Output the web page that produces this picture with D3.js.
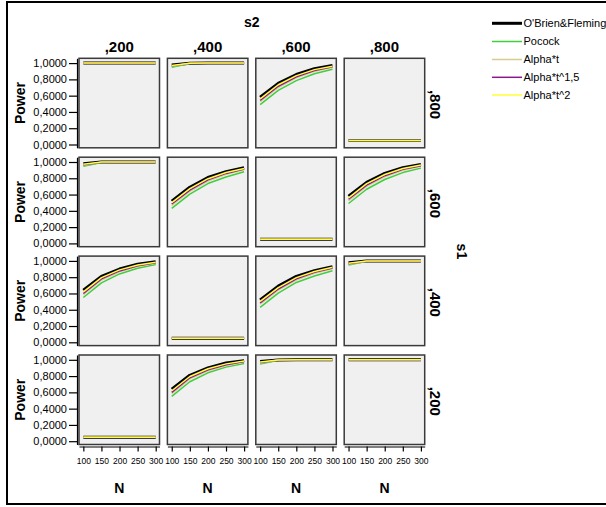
<!DOCTYPE html>
<html>
<head>
<meta charset="utf-8">
<script src="https://cdn.jsdelivr.net/npm/d3@7"></script>
<style>
  html, body { margin: 0; padding: 0; background: #fff; }
  svg { display: block; font-family: "Liberation Sans", Arial, sans-serif; }
</style>
</head>
<body>
<svg id="chart" width="606" height="507"></svg>
<script>
// ---------------- DATA ----------------
const nValues = [100, 150, 200, 250, 300];
const s2Labels = [",200", ",400", ",600", ",800"];          // columns
const s1Labels = [",800", ",600", ",400", ",200"];          // rows, top to bottom
const yTickValues = [0, 0.2, 0.4, 0.6, 0.8, 1.0];

const seriesNames  = ["O'Brien&Fleming", "Pocock", "Alpha*t", "Alpha*t^1,5", "Alpha*t^2"];
const seriesColors = ["#000000", "#3fcf3f", "#d6cb93", "#8a1a8a", "#ffff3a"];

// Power curves (series order as seriesNames)
// difference 0 (null): s1 = s2
const powerFlat = [
  [0.05, 0.05, 0.05, 0.05, 0.05],
  [0.05, 0.05, 0.05, 0.05, 0.05],
  [0.05, 0.05, 0.05, 0.05, 0.05],
  [0.05, 0.05, 0.05, 0.05, 0.05],
  [0.05, 0.05, 0.05, 0.05, 0.05]
];
// difference 0.6
const powerOne = [
  [1.0, 1.0, 1.0, 1.0, 1.0],
  [1.0, 1.0, 1.0, 1.0, 1.0],
  [1.0, 1.0, 1.0, 1.0, 1.0],
  [1.0, 1.0, 1.0, 1.0, 1.0],
  [1.0, 1.0, 1.0, 1.0, 1.0]
];
// difference 0.4
const powerNear = [
  [0.978, 0.999, 1.0, 1.0, 1.0],
  [0.948, 0.995, 1.0, 1.0, 1.0],
  [0.960, 0.997, 1.0, 1.0, 1.0],
  [0.966, 0.998, 1.0, 1.0, 1.0],
  [0.972, 0.999, 1.0, 1.0, 1.0]
];
// ,200 vs ,400
const powerA = [
  [0.640, 0.810, 0.900, 0.960, 0.990],
  [0.550, 0.730, 0.840, 0.910, 0.955],
  [0.585, 0.765, 0.865, 0.930, 0.972],
  [0.600, 0.780, 0.877, 0.940, 0.978],
  [0.620, 0.795, 0.890, 0.950, 0.984]
];
// ,600 vs ,800
const powerB = [
  [0.580, 0.750, 0.860, 0.930, 0.970],
  [0.490, 0.665, 0.785, 0.870, 0.925],
  [0.525, 0.700, 0.818, 0.898, 0.948],
  [0.542, 0.716, 0.832, 0.910, 0.955],
  [0.560, 0.734, 0.846, 0.920, 0.962]
];
// ,400 vs ,600
const powerC = [
  [0.520, 0.690, 0.810, 0.880, 0.930],
  [0.430, 0.605, 0.735, 0.815, 0.880],
  [0.468, 0.640, 0.765, 0.848, 0.904],
  [0.484, 0.655, 0.780, 0.860, 0.913],
  [0.502, 0.672, 0.795, 0.870, 0.921]
];

const curveSets = { flat: powerFlat, one: powerOne, near: powerNear, A: powerA, B: powerB, C: powerC };
// which curve set belongs to each panel [row][col]
const panelKeys = [
  ["one",  "near", "B",    "flat"],
  ["near", "C",    "flat", "B"],
  ["A",    "flat", "C",    "near"],
  ["flat", "A",    "near", "one"]
];

// ---------------- LAYOUT ----------------
const svg = d3.select("#chart");
const font = "'Liberation Sans', Arial, sans-serif";

const gridLeft = 79, gridTop = 58.3;
const panelW = 80.5, panelH = 89.5;
const colPitch = 88.4, rowPitch = 98.9;

const x = d3.scaleLinear().domain([88, 310.5]).range([0, panelW]);
const y = d3.scaleLinear().domain([-0.0405, 1.059]).range([panelH, 0]);

// outer frame
svg.append("rect")
  .attr("x", 7).attr("y", 2).attr("width", 640).attr("height", 502)
  .attr("fill", "none").attr("stroke", "#000").attr("stroke-width", 2);

const line = d3.line().x((d, i) => x(nValues[i])).y(d => y(d));

// draw panels
for (let r = 0; r < 4; r++) {
  for (let c = 0; c < 4; c++) {
    const px = gridLeft + c * colPitch, py = gridTop + r * rowPitch;
    const g = svg.append("g").attr("transform", `translate(${px},${py})`);
    g.append("rect")
      .attr("width", panelW).attr("height", panelH)
      .attr("fill", "#f0f0f0").attr("stroke", "#3a3a3a").attr("stroke-width", 1.5);
    const set = curveSets[panelKeys[r][c]];
    set.forEach((vals, si) => {
      g.append("path")
        .attr("d", line(vals))
        .attr("fill", "none")
        .attr("stroke", seriesColors[si])
        .attr("stroke-width", si === 0 ? 3 : 1.5)
        .attr("stroke-linejoin", "round");
    });

    // y axis on left column
    if (c === 0) {
      const ax = svg.append("g")
        .attr("transform", `translate(${px - 2},${py})`)
        .call(d3.axisLeft(y).tickValues(yTickValues).tickSize(8).tickSizeOuter(0).tickPadding(2)
          .tickFormat(d => d3.format(".4f")(d).replace(".", ",")));
      ax.selectAll("text").attr("font-size", 11).attr("font-family", font).attr("fill", "#000");
      ax.selectAll("line, path").attr("stroke", "#000").attr("stroke-width", 1.2);
      svg.append("text")
        .attr("transform", `translate(24.5,${py + panelH / 2}) rotate(-90)`)
        .attr("text-anchor", "middle")
        .attr("font-size", 14).attr("font-weight", "bold").attr("font-family", font)
        .text("Power");
    }
    // x axis on bottom row
    if (r === 3) {
      const ax = svg.append("g")
        .attr("transform", `translate(${px},${py + panelH + 2})`)
        .call(d3.axisBottom(x).tickValues(nValues).tickSize(5).tickSizeOuter(0).tickPadding(6));
      ax.selectAll("text").attr("font-size", 8.5).attr("font-family", font).attr("fill", "#000");
      ax.selectAll("line, path").attr("stroke", "#000").attr("stroke-width", 1.2);
      svg.append("text")
        .attr("x", px + panelW / 2).attr("y", 493)
        .attr("text-anchor", "middle")
        .attr("font-size", 14).attr("font-weight", "bold").attr("font-family", font)
        .text("N");
    }
    // column headers
    if (r === 0) {
      svg.append("text")
        .attr("x", px + panelW / 2).attr("y", 52)
        .attr("text-anchor", "middle")
        .attr("font-size", 15).attr("font-weight", "bold").attr("font-family", font)
        .text(s2Labels[c]);
    }
    // row labels
    if (c === 3) {
      svg.append("text")
        .attr("transform", `translate(430,${py + panelH / 2 + 1.5}) rotate(90)`)
        .attr("text-anchor", "middle")
        .attr("font-size", 15).attr("font-weight", "bold").attr("font-family", font)
        .text(s1Labels[r]);
    }
  }
}

// facet titles
svg.append("text")
  .attr("x", gridLeft + (3 * colPitch + panelW) / 2).attr("y", 27)
  .attr("text-anchor", "middle")
  .attr("font-size", 14).attr("font-weight", "bold").attr("font-family", font)
  .text("s2");
svg.append("text")
  .attr("transform", `translate(457,${gridTop + (3 * rowPitch + panelH) / 2}) rotate(90)`)
  .attr("text-anchor", "middle")
  .attr("font-size", 14).attr("font-weight", "bold").attr("font-family", font)
  .text("s1");

// legend
const legend = svg.append("g");
const legendY = [23.3, 41.5, 59.5, 77.3, 95];
seriesNames.forEach((name, i) => {
  legend.append("line")
    .attr("x1", 492).attr("x2", 522)
    .attr("y1", legendY[i]).attr("y2", legendY[i])
    .attr("stroke", seriesColors[i]).attr("stroke-width", i === 0 ? 3 : 1.5);
  legend.append("text")
    .attr("x", 523.5).attr("y", legendY[i]).attr("dy", "0.35em")
    .attr("font-size", 11).attr("font-family", font)
    .text(name);
});
</script>
</body>
</html>
